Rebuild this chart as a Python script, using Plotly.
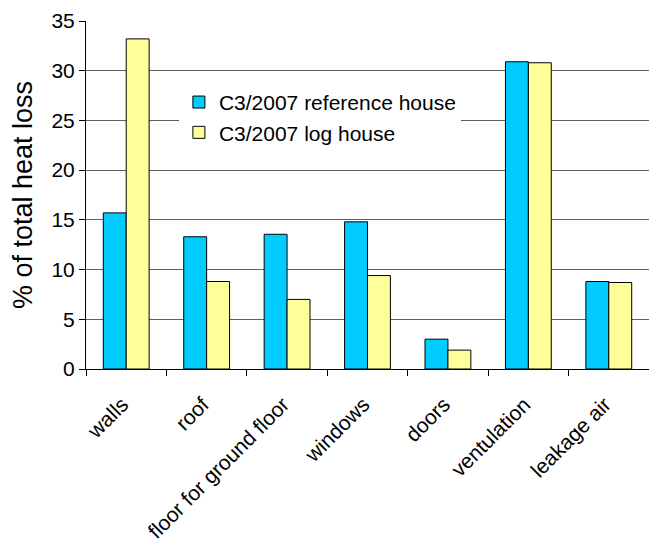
import plotly.graph_objects as go

# Share of total heat loss by building element
categories = ["walls", "roof", "floor for ground floor", "windows", "doors",
              "ventulation", "leakage air"]
reference_house = [15.7, 13.3, 13.55, 14.8, 3.0, 30.9, 8.8]
log_house = [33.2, 8.8, 7.0, 9.4, 1.9, 30.8, 8.7]
y_ticks = [0, 5, 10, 15, 20, 25, 30, 35]

FONT = "Arial, Liberation Sans, sans-serif"

fig = go.Figure()
fig.add_trace(go.Bar(
    x=categories, y=reference_house, name="C3/2007 reference house",
    marker=dict(color="#00CCFF", line=dict(color="black", width=1)),
))
fig.add_trace(go.Bar(
    x=categories, y=log_house, name="C3/2007 log house",
    marker=dict(color="#FFFF99", line=dict(color="black", width=1)),
))

fig.update_layout(
    width=649, height=547,
    margin=dict(l=86, r=0, t=21, b=178),
    paper_bgcolor="white", plot_bgcolor="white",
    font=dict(family=FONT, size=21, color="black"),
    barmode="group", bargap=0.43, bargroupgap=0,
    showlegend=True,
    legend=dict(
        x=0.165, y=0.825, xanchor="left", yanchor="top",
        bgcolor="white", borderwidth=0,
        font=dict(family=FONT, size=21, color="black"),
        itemwidth=30, tracegroupgap=0,
    ),
    xaxis=dict(
        tickangle=-45, tickson="boundaries", ticks="outside", ticklen=6,
        tickcolor="black", showline=True, linecolor="black", linewidth=1,
        showgrid=False, tickfont=dict(size=21),
        ticklabelstandoff=14, ticklabelshift=-4,
    ),
    yaxis=dict(
        range=[0, 35], tickvals=y_ticks, ticks="outside", ticklen=6,
        tickcolor="black", showline=True, linecolor="black", linewidth=1,
        showgrid=True, gridcolor="#606060", gridwidth=1, zeroline=False,
        tickfont=dict(size=21),
        title=dict(text="% of total heat loss", font=dict(size=27), standoff=10),
    ),
)

fig.write_html("out.html")
